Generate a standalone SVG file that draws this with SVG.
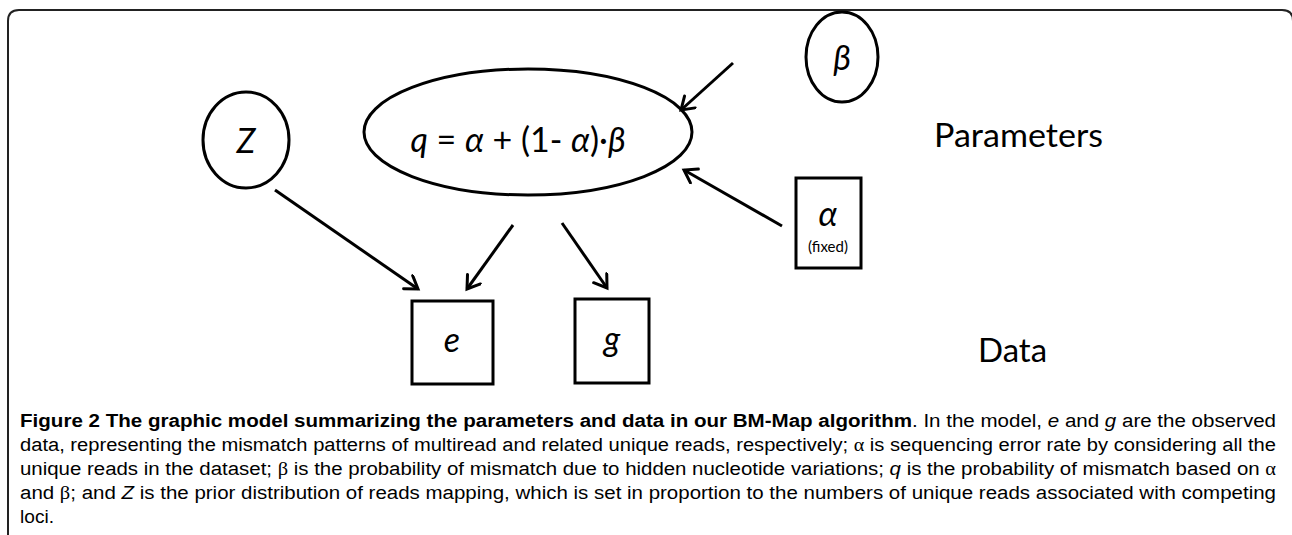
<svg xmlns="http://www.w3.org/2000/svg" width="1292" height="535" viewBox="0 0 1292 535">
<style>
.shape{fill:none;stroke:#000;stroke-width:3}
.conn{fill:none;stroke:#000;stroke-width:3}
.lbl{font-family:Lato,"Open Sans",sans-serif;font-style:italic;font-size:34px;fill:#000;text-anchor:middle}
.big{font-family:Lato,"Open Sans",sans-serif;font-size:33px;fill:#000}
.cap{font-family:"Liberation Sans",Arial,sans-serif;font-size:18px;fill:#000}
.gr{font-family:"Liberation Serif","Times New Roman",serif}
</style>
<defs>
<marker id="ah" markerUnits="userSpaceOnUse" markerWidth="24" markerHeight="24" refX="14" refY="9" orient="auto">
<path d="M2,1 L14,9 L2,17" fill="none" stroke="#000" stroke-width="3" stroke-linecap="round" stroke-linejoin="miter"/>
</marker>
</defs>
<rect width="1292" height="535" fill="#fff"/>
<path id="frame" d="M8,536 V21 Q8,10 19,10 H1282 Q1293,10 1293,21 V536" fill="none" stroke="#222" stroke-width="2"/>

<g id="node-Z">
<ellipse class="shape" cx="246" cy="140" rx="43" ry="48"/>
<text class="lbl" x="246" y="153">Z</text>
</g>
<g id="node-q">
<ellipse class="shape" cx="528" cy="132" rx="164" ry="63"/>
<text class="lbl" x="518" y="152" style="font-size:34px"><tspan>q</tspan><tspan font-style="normal"> = </tspan><tspan>α</tspan><tspan font-style="normal"> + (1- </tspan><tspan>α</tspan><tspan font-style="normal">)·</tspan><tspan>β</tspan></text>
</g>
<g id="node-beta">
<ellipse class="shape" cx="842" cy="57" rx="36" ry="45"/>
<text class="lbl" x="842" y="70">β</text>
</g>
<g id="node-alpha">
<rect class="shape" x="796" y="178" width="65" height="90"/>
<text class="lbl" x="828" y="226">α</text>
<text x="828" y="252" style="font-family:Lato,'Open Sans',sans-serif;font-size:15px;text-anchor:middle">(fixed)</text>
</g>
<g id="node-e">
<rect class="shape" x="412" y="301" width="81" height="83"/>
<text class="lbl" x="452" y="352">e</text>
</g>
<g id="node-g">
<rect class="shape" x="575" y="299" width="74" height="84"/>
<text class="lbl" x="612" y="351">g</text>
</g>
<g id="labels">
<text class="big" x="934" y="147" textLength="169" lengthAdjust="spacingAndGlyphs">Parameters</text>
<text class="big" x="978" y="362">Data</text>
</g>

<g id="connectors">
<line class="conn" x1="275" y1="190" x2="418" y2="289" marker-end="url(#ah)"/>
<line class="conn" x1="513" y1="225" x2="467" y2="289" marker-end="url(#ah)"/>
<line class="conn" x1="562" y1="223" x2="607" y2="288" marker-end="url(#ah)"/>
<line class="conn" x1="733" y1="63" x2="681" y2="110" marker-end="url(#ah)"/>
<line class="conn" x1="782" y1="226" x2="684" y2="170" marker-end="url(#ah)"/>
</g>

<g id="caption">
<text class="cap" x="20" y="427" font-weight="bold" textLength="892" lengthAdjust="spacingAndGlyphs">Figure 2 The graphic model summarizing the parameters and data in our BM-Map algorithm</text>
<text class="cap" x="912" y="427" textLength="364" lengthAdjust="spacingAndGlyphs">. In the model, <tspan font-style="italic">e</tspan> and <tspan font-style="italic">g</tspan> are the observed</text>
<text class="cap" x="20" y="451" textLength="1256" lengthAdjust="spacingAndGlyphs">data, representing the mismatch patterns of multiread and related unique reads, respectively; <tspan class="gr">α</tspan> is sequencing error rate by considering all the</text>
<text class="cap" x="20" y="475" textLength="1256" lengthAdjust="spacingAndGlyphs">unique reads in the dataset; <tspan class="gr">β</tspan> is the probability of mismatch due to hidden nucleotide variations; <tspan font-style="italic">q</tspan> is the probability of mismatch based on <tspan class="gr">α</tspan></text>
<text class="cap" x="20" y="499" textLength="1256" lengthAdjust="spacingAndGlyphs">and <tspan class="gr">β</tspan>; and <tspan font-style="italic">Z</tspan> is the prior distribution of reads mapping, which is set in proportion to the numbers of unique reads associated with competing</text>
<text class="cap" x="20" y="523" textLength="34" lengthAdjust="spacingAndGlyphs">loci.</text>
</g>
</svg>
